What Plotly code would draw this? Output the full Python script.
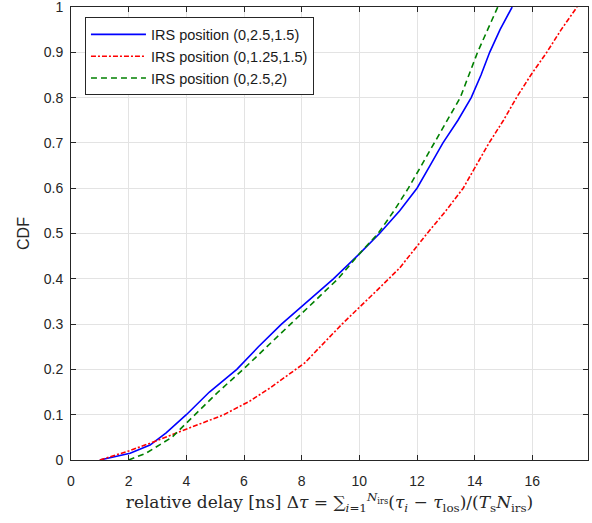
import plotly.graph_objects as go

# CDF levels and delays (ns)
blue_x = [1.0, 2.05, 2.74, 3.3, 4.0, 4.8, 5.75, 6.5, 7.3, 8.2, 9.1, 10.0, 10.7, 11.4, 12.0, 12.45, 12.9, 13.42, 13.88, 14.22, 14.52, 14.88, 15.3]
blue_y = [0.0, 0.015, 0.033, 0.06, 0.1, 0.15, 0.2, 0.25, 0.3, 0.35, 0.4, 0.455, 0.5, 0.55, 0.6, 0.65, 0.7, 0.75, 0.8, 0.85, 0.9, 0.95, 1.0]

red_x = [1.0, 2.0, 2.74, 4.0, 5.3, 6.2, 6.9, 8.1, 9.4, 10.7, 11.4, 12.35, 13.0, 13.6, 14.05, 14.5, 15.0, 15.45, 15.95, 16.5, 17.0, 17.55]
red_y = [0.0, 0.02, 0.037, 0.068, 0.1, 0.13, 0.159, 0.214, 0.3, 0.38, 0.424, 0.5, 0.55, 0.6, 0.65, 0.7, 0.75, 0.8, 0.85, 0.9, 0.95, 1.0]

green_x = [2.0, 2.6, 3.5, 4.3, 5.1, 5.97, 6.8, 7.6, 8.45, 9.26, 10.0, 10.65, 11.2, 11.7, 12.15, 12.6, 13.05, 13.5, 13.8, 14.1, 14.45, 14.8]
green_y = [0.0, 0.015, 0.05, 0.1, 0.15, 0.2, 0.25, 0.3, 0.35, 0.4, 0.455, 0.5, 0.55, 0.6, 0.65, 0.7, 0.75, 0.8, 0.85, 0.9, 0.95, 1.0]

names = ["IRS position (0,2.5,1.5)", "IRS position (0,1.25,1.5)", "IRS position (0,2.5,2)"]

x_ticks = [0, 2, 4, 6, 8, 10, 12, 14, 16]
y_ticks = [0, 0.1, 0.2, 0.3, 0.4, 0.5, 0.6, 0.7, 0.8, 0.9, 1]
y_ticktext = ["0", "0.1", "0.2", "0.3", "0.4", "0.5", "0.6", "0.7", "0.8", "0.9", "1"]

fig = go.Figure()
fig.add_trace(go.Scatter(x=blue_x, y=blue_y, mode="lines", name=names[0],
                         line=dict(color="#0000ff", width=1.6)))
fig.add_trace(go.Scatter(x=red_x, y=red_y, mode="lines", name=names[1],
                         line=dict(color="#ff0000", width=1.6, dash="5px,2px,2px,2px")))
fig.add_trace(go.Scatter(x=green_x, y=green_y, mode="lines", name=names[2],
                         line=dict(color="#008000", width=1.6, dash="6px,4px")))

axis_col = "#262626"
grid_col = "#e3e3e3"
xtitle = ("relative delay [ns] Δ<i>τ</i> = ∑<sub><i>i</i>=1</sub><sup><i>N</i><sub>irs</sub></sup>"
          "(<i>τ<sub>i</sub></i> − <i>τ</i><sub>los</sub>)/(<i>T</i><sub>s</sub><i>N</i><sub>irs</sub>)")
fig.update_layout(
    width=592, height=523,
    margin=dict(l=71, r=4, t=7, b=63, autoexpand=False),
    paper_bgcolor="white", plot_bgcolor="white",
    font=dict(family="Liberation Sans, Arial, sans-serif", size=14, color=axis_col),
    showlegend=True,
    legend=dict(x=0.027, y=0.977, xanchor="left", yanchor="top",
                bgcolor="white", bordercolor=axis_col, borderwidth=1,
                font=dict(size=14.5, color="#1a1a1a"), itemwidth=55,
                tracegroupgap=0),
    xaxis=dict(range=[0, 17.93], tickvals=x_ticks, ticks="inside", ticklen=5,
               tickcolor=axis_col, showline=True, linecolor=axis_col, linewidth=1,
               mirror="ticks", showgrid=True, gridcolor=grid_col, gridwidth=1,
               zeroline=False, tickfont=dict(size=14), ticklabelstandoff=8,
               ticklabeloverflow="allow", automargin=False,
               title=dict(text=xtitle,
                          font=dict(family="DejaVu Serif, Liberation Serif, serif", size=17, color=axis_col),
                          standoff=8)),
    yaxis=dict(range=[0, 1], tickvals=y_ticks, ticktext=y_ticktext, ticks="inside", ticklen=5,
               tickcolor=axis_col, showline=True, linecolor=axis_col, linewidth=1,
               mirror="ticks", showgrid=True, gridcolor=grid_col, gridwidth=1,
               zeroline=False, tickfont=dict(size=14), ticklabelstandoff=4,
               ticklabeloverflow="allow", automargin=False,
               title=dict(text="CDF", font=dict(size=16, color=axis_col), standoff=10)),
)

fig.write_html("out.html")
